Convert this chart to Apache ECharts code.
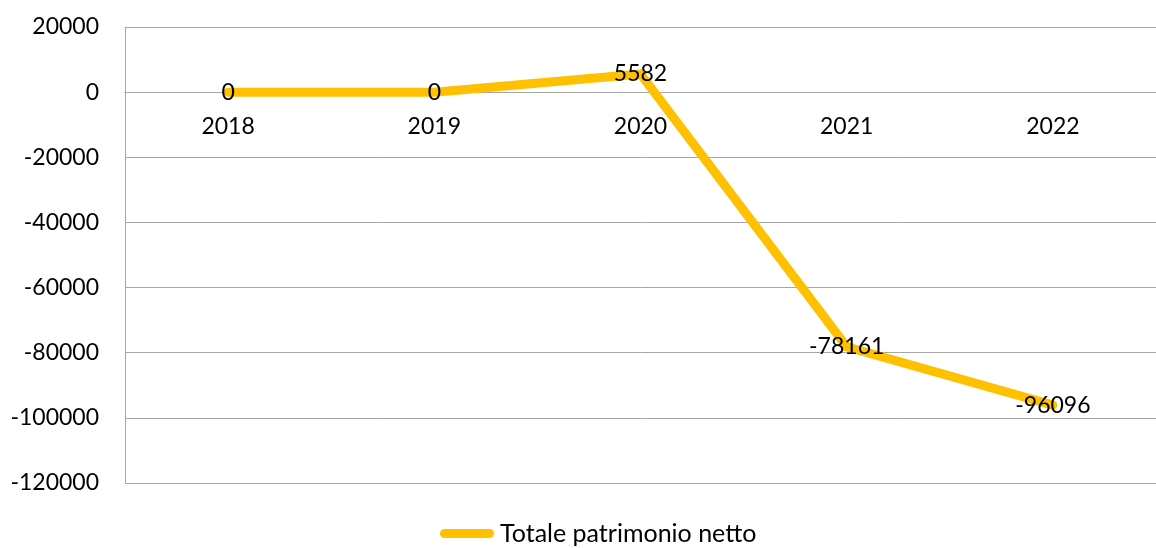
<!DOCTYPE html>
<html>
<head>
<meta charset="utf-8">
<script src="https://cdn.jsdelivr.net/npm/echarts@6/dist/echarts.min.js"></script>
<style>
html,body{margin:0;padding:0;background:#fff;}
#chart{width:1156px;height:548px;}
</style>
</head>
<body>
<div id="chart"></div>
<script>
const categories = ['2018', '2019', '2020', '2021', '2022'];
const seriesName = 'Totale patrimonio netto';
const values = [0, 0, 5582, -78161, -96096];
const yMin = -120000;
const yMax = 20000;
const yInterval = 20000;

const FONT = 'Lato';
const gridTop = 27, gridBottom = 65, chartH = 548;
const plotH = chartH - gridTop - gridBottom;
// place the category axis at value 0 (computed through the value range)
const zeroOffset = -plotH * (0 - yMin) / (yMax - yMin);

const chart = echarts.init(document.getElementById('chart'), null, {renderer: 'canvas'});
chart.setOption({
  animation: false,
  backgroundColor: '#ffffff',
  textStyle: {fontFamily: FONT},
  grid: {left: 125, right: 0, top: gridTop, bottom: gridBottom, containLabel: false},
  legend: {
    show: true,
    left: 435,
    top: 516,
    itemWidth: 62,
    itemHeight: 9,
    itemGap: 10,
    icon: 'path://M5,0 H55 A5,5 0 0 1 55,10 H5 A5,5 0 0 1 5,0 Z',
    textStyle: {fontFamily: FONT, fontSize: 25, color: '#000', padding: [0, 0, 0, -3]},
    data: [seriesName]
  },
  xAxis: {
    type: 'category',
    data: categories,
    boundaryGap: true,
    offset: zeroOffset,
    axisLine: {show: true, onZero: false, lineStyle: {color: '#a6a6a6', width: 1}},
    axisTick: {show: false},
    axisLabel: {fontFamily: FONT, fontSize: 23, color: '#000', margin: 23},
    splitLine: {show: false}
  },
  yAxis: {
    type: 'value',
    min: yMin,
    max: yMax,
    interval: yInterval,
    axisLine: {show: true, lineStyle: {color: '#a6a6a6', width: 1}},
    axisTick: {show: false},
    axisLabel: {fontFamily: FONT, fontSize: 23, color: '#000', margin: 26, formatter: function (v) { return String(v); }},
    splitLine: {show: true, lineStyle: {color: '#a6a6a6', width: 1}}
  },
  series: [{
    name: seriesName,
    type: 'line',
    data: values,
    symbol: 'circle',
    symbolSize: 1,
    showSymbol: true,
    itemStyle: {color: '#FFC000'},
    lineStyle: {color: '#FFC000', width: 9, join: 'miter', cap: 'round'},
    label: {show: true, position: 'inside', fontFamily: FONT, fontSize: 23, color: '#000'}
  }]
});
</script>
</body>
</html>
